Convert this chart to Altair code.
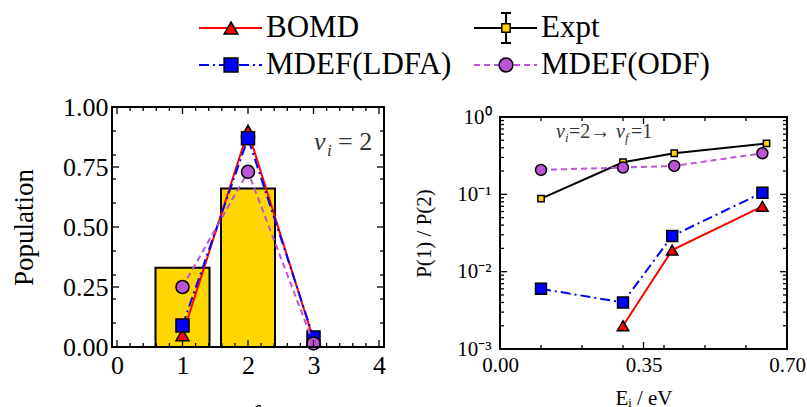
import altair as alt
import pandas as pd

FONT = "Liberation Serif"

# ---------------- data: left panel (v_i = 2 final-state populations) ----------------
vf_levels = [1, 2, 3]
expt_vf = [1, 2]
expt_pop = [0.33, 0.66]
bomd_pop = [0.05, 0.90, 0.03]
ldfa_pop = [0.09, 0.87, 0.04]
odf_pop = [0.25, 0.73, 0.015]

# ---------------- data: right panel P(1)/P(2) vs E_i ----------------
bomd_E = [0.30, 0.42, 0.64]
bomd_ratio = [0.0020, 0.019, 0.070]
ldfa_E = [0.10, 0.30, 0.42, 0.64]
ldfa_ratio = [0.0060, 0.0040, 0.029, 0.105]
odf_E = [0.10, 0.30, 0.425, 0.64]
odf_ratio = [0.207, 0.222, 0.233, 0.34]
expt_E = [0.10, 0.30, 0.425, 0.65]
expt_ratio = [0.088, 0.26, 0.34, 0.455]

# ---------------- tick positions ----------------
left_x_major = [0, 1, 2, 3, 4]
left_x_minor = [round(i * 0.2, 2) for i in range(21) if i % 5]
left_y_major = [0, 0.25, 0.5, 0.75, 1.0]
left_y_minor = [0.1, 0.2, 0.3, 0.4, 0.6, 0.7, 0.8, 0.9]
right_x_major = [0, 0.35, 0.7]
right_x_minor = [0.1, 0.2, 0.3, 0.4, 0.5, 0.6]
right_y_major = [0.001, 0.01, 0.1, 1.0]
right_y_minor = [k * 10.0 ** e for e in (-3, -2, -1) for k in range(2, 10)]

legend_names = ["BOMD", "Expt", "MDEF(LDFA)", "MDEF(ODF)"]
legend_col = [0, 1, 0, 1]
legend_row = [0, 0, 1, 1]

STYLE = {
    "BOMD": dict(line="#FF0000", fill="#FF0000", shape="triangle-up", dash=None),
    "Expt": dict(line="#000000", fill="#FFD700", shape="square", dash=None),
    "MDEF(LDFA)": dict(line="#0000FF", fill="#0000FF", shape="square", dash=[10, 4, 2, 4]),
    "MDEF(ODF)": dict(line="#BA55D3", fill="#BA55D3", shape="circle", dash=[6, 4]),
}

W1, H1 = 272, 240
W2, H2 = 287, 232
TOP2 = 10            # the right frame starts this far below the left frame's top
H2T = H2 + TOP2


def axis(**kw):
    base = dict(grid=False, domain=False, ticks=False, tickSize=0, labelFlush=False,
                labelOverlap=False, labelFont=FONT, labelColor="black", titleFont=FONT,
                titleColor="black", titleFontWeight="normal")
    base.update(kw)
    return alt.Axis(**base)


def line_kw(name, width=2):
    s = STYLE[name]
    kw = dict(color=s["line"], strokeWidth=width)
    if s["dash"]:
        kw["strokeDash"] = s["dash"]
    return kw


def point_kw(name, size):
    s = STYLE[name]
    return dict(shape=s["shape"], filled=True, fill=s["fill"], stroke="black",
                strokeWidth=1.5, size=size, opacity=1, fillOpacity=1, strokeOpacity=1)


def frame_layers(X, Y, W, top, bottom, xmaj, xmin, ymaj, ymin, major=7, minor=4):
    out = [alt.Chart(pd.DataFrame({"t": [0]})).mark_rect(
        fillOpacity=0, stroke="black", strokeWidth=2).encode(
        x=alt.value(0), x2=alt.value(W), y=alt.value(top), y2=alt.value(bottom))]
    for vals, L in ((xmaj, major), (xmin, minor)):
        b = alt.Chart(pd.DataFrame({"x": vals})).mark_rule(color="black", strokeWidth=1.3)
        out.append(b.encode(x=X, y=alt.value(bottom), y2=alt.value(bottom - L)))
        out.append(b.encode(x=X, y=alt.value(top), y2=alt.value(top + L)))
    for vals, L in ((ymaj, major), (ymin, minor)):
        b = alt.Chart(pd.DataFrame({"y": vals})).mark_rule(color="black", strokeWidth=1.3)
        out.append(b.encode(y=Y, x=alt.value(0), x2=alt.value(L)))
        out.append(b.encode(y=Y, x=alt.value(W), x2=alt.value(W - L)))
    return out


def text_piece(txt, x, y, size, style="normal", color="#333333"):
    return alt.Chart(pd.DataFrame({"t": [txt]})).mark_text(
        align="left", baseline="alphabetic", font=FONT, fontSize=size,
        fontStyle=style, color=color).encode(
        x=alt.value(x), y=alt.value(y), text="t:N")


# ---------------- left panel ----------------
sx1 = alt.Scale(domain=[0, 4], nice=False, zero=False)
sy1 = alt.Scale(domain=[0, 1], nice=False)
X1 = alt.X("x:Q", scale=sx1, axis=axis(values=left_x_major, format="d", labelFontSize=26,
                                        labelPadding=5, title="vf", titleFontSize=26,
                                        titleFontStyle="italic", titlePadding=23))
Y1 = alt.Y("y:Q", scale=sy1, axis=axis(values=left_y_major, format=".2f", labelFontSize=26,
                                        labelPadding=4, title="Population", titleFontSize=27,
                                        titlePadding=24))

bars = alt.Chart(pd.DataFrame({"x": expt_vf, "y": expt_pop})).mark_bar(
    size=54, color="#FFD700", stroke="black", strokeWidth=2).encode(x=X1, y=Y1)

left_layers = [bars]
for name, vals in (("BOMD", bomd_pop), ("MDEF(LDFA)", ldfa_pop), ("MDEF(ODF)", odf_pop)):
    df = pd.DataFrame({"x": vf_levels, "y": vals})
    left_layers.append(alt.Chart(df).mark_line(**line_kw(name)).encode(x=X1, y=Y1))
    left_layers.append(alt.Chart(df).mark_point(**point_kw(name, 170)).encode(x=X1, y=Y1))
left_layers += frame_layers(X1, Y1, W1, 0, H1, left_x_major, left_x_minor, left_y_major, left_y_minor)
left_layers += [
    text_piece("v", 202, 43, 26, "italic"),
    text_piece("i", 215, 49, 17, "italic"),
    text_piece("= 2", 226, 43, 26),
]
left = alt.layer(*left_layers).properties(width=W1, height=H1)

# ---------------- right panel ----------------
sx2 = alt.Scale(domain=[0, 0.7], nice=False, zero=False)
sy2 = alt.Scale(type="log", domain=[0.001, 1], nice=False, range=[H2T, TOP2])
X2 = alt.X("x:Q", scale=sx2, axis=axis(values=right_x_major, format=".2f", labelFontSize=21,
                                        labelPadding=5, title="Eᵢ / eV", titleFontSize=21,
                                        titlePadding=12))
Y2 = alt.Y("y:Q", scale=sy2, axis=axis(
    values=right_y_major, labelFontSize=21, labelPadding=9,
    labelExpr="datum.value > 0.5 ? '10⁰' : datum.value > 0.05 ? '10⁻¹' : datum.value > 0.005 ? '10⁻²' : '10⁻³'",
    title="P(1)  /  P(2)", titleFontSize=21, titlePadding=22))

right_layers = []
for name, E, vals, size in (("BOMD", bomd_E, bomd_ratio, 130),
                            ("MDEF(LDFA)", ldfa_E, ldfa_ratio, 120),
                            ("Expt", expt_E, expt_ratio, 40),
                            ("MDEF(ODF)", odf_E, odf_ratio, 120)):
    df = pd.DataFrame({"x": E, "y": vals})
    right_layers.append(alt.Chart(df).mark_line(**line_kw(name)).encode(x=X2, y=Y2))
    right_layers.append(alt.Chart(df).mark_point(**point_kw(name, size)).encode(x=X2, y=Y2))
right_layers += frame_layers(X2, Y2, W2, TOP2, H2T, right_x_major, right_x_minor,
                             right_y_major, right_y_minor)
right_layers += [
    text_piece("v", 56, TOP2 + 21, 20, "italic"),
    text_piece("i", 65, TOP2 + 25, 13, "italic"),
    text_piece(" =2→", 69, TOP2 + 21, 20),
    text_piece("v", 116, TOP2 + 21, 20, "italic"),
    text_piece("f", 125, TOP2 + 25, 13, "italic"),
    text_piece(" =1", 131, TOP2 + 21, 20),
]
right = alt.layer(*right_layers).properties(width=W2, height=H2T)

# ---------------- legend ----------------
leg_df = pd.DataFrame({"name": legend_names, "col": legend_col, "row": legend_row})
LX = alt.X("col:Q", scale=alt.Scale(domain=[0, 1], range=[87, 362]), axis=None)
LX2 = alt.X2("col")
LY = alt.Y("row:Q", scale=alt.Scale(domain=[0, 1], range=[22, 59]), axis=None)
LY2 = alt.Y2("row")
leg_layers = []
for name in ["BOMD", "MDEF(LDFA)", "Expt", "MDEF(ODF)"]:
    base = alt.Chart(leg_df).transform_filter(alt.datum.name == name)
    leg_layers.append(base.mark_rule(xOffset=0, x2Offset=63, **line_kw(name)).encode(x=LX, x2=LX2, y=LY))
    if name == "Expt":
        eb = dict(color="black", strokeWidth=2)
        leg_layers.append(base.mark_rule(xOffset=32, x2Offset=32, yOffset=-15, y2Offset=15, **eb)
                          .encode(x=LX, x2=LX2, y=LY, y2=LY2))
        for dy in (-15, 15):
            leg_layers.append(base.mark_rule(xOffset=27, x2Offset=37, yOffset=dy, y2Offset=dy, **eb)
                              .encode(x=LX, x2=LX2, y=LY, y2=LY2))
        leg_layers.append(base.mark_point(xOffset=32, **point_kw(name, 70)).encode(x=LX, y=LY))
    else:
        leg_layers.append(base.mark_point(xOffset=32, **point_kw(name, 190)).encode(x=LX, y=LY))
    leg_layers.append(base.mark_text(align="left", baseline="middle", xOffset=67, font=FONT,
                                     fontSize=31, color="black")
                      .encode(x=LX, y=LY, text="name:N"))
legend = alt.layer(*leg_layers).properties(width=560, height=70)

chart = alt.vconcat(
    legend,
    alt.hconcat(left, right, spacing=27),
    spacing=12,
).properties(
    padding={"left": 10, "top": 5, "right": 0, "bottom": 0}
).configure(font=FONT).configure_view(stroke="transparent")

chart.save("out.html", embed_options={"renderer": "svg", "actions": False})
